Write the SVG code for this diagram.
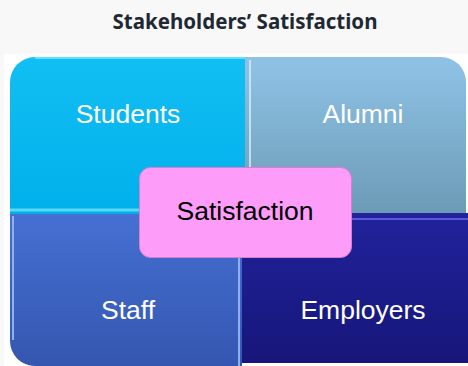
<svg xmlns="http://www.w3.org/2000/svg" width="468" height="366" viewBox="0 0 468 366">
<defs>
<linearGradient id="gStu" x1="0" y1="0" x2="0" y2="1"><stop offset="0" stop-color="#12bff4"/><stop offset="1" stop-color="#00b0ea"/></linearGradient>
<linearGradient id="gAlu" x1="0" y1="0" x2="0" y2="1"><stop offset="0" stop-color="#8fc3e6"/><stop offset="1" stop-color="#6c9bb6"/></linearGradient>
<linearGradient id="gSta" x1="0" y1="0" x2="0" y2="1"><stop offset="0" stop-color="#4570d2"/><stop offset="1" stop-color="#3556b0"/></linearGradient>
<linearGradient id="gEmp" x1="0" y1="0" x2="0" y2="1"><stop offset="0" stop-color="#22229c"/><stop offset="1" stop-color="#16167a"/></linearGradient>
</defs>
<style>
.lbl{font-family:"Liberation Sans",Arial,sans-serif;font-size:26.5px;fill:#ffffff;text-anchor:middle}
.ttl{font-family:"Noto Sans","Open Sans",sans-serif;font-size:20.5px;font-weight:bold;fill:#1f2933;text-anchor:middle}
</style>
<rect x="0" y="0" width="468" height="366" fill="#f8f8f8"/>
<rect x="4" y="54" width="464" height="312" fill="#ffffff"/>
<text class="ttl" x="245" y="29">Stakeholders’ Satisfaction</text>
<g id="alumni">
<path d="M245 57 H441 A25 25 0 0 1 466 82 V213 H245 Z" fill="url(#gAlu)"/>
<line x1="250" y1="60" x2="250" y2="210" stroke="#d8f0ff" stroke-width="1.5"/>
<text class="lbl" x="363" y="123">Alumni</text>
</g>
<g id="students">
<path d="M35 57 H245 V214 H10 V82 A25 25 0 0 1 35 57 Z" fill="url(#gStu)"/>
<path d="M35 58 H245" stroke="#5fe0ff" stroke-width="2"/>
<path d="M10 210 H245" stroke="#5ad8f8" stroke-width="3"/>
<text class="lbl" x="128" y="123">Students</text>
</g>
<g id="employers">
<rect x="242" y="213" width="226" height="150" fill="url(#gEmp)"/>
<path d="M248 219 H468" stroke="#5a5ad8" stroke-width="2"/>
<text class="lbl" x="363" y="319">Employers</text>
</g>
<g id="staff">
<path d="M10 214 H242 V366 H35 A25 25 0 0 1 10 341 Z" fill="url(#gSta)"/>
<line x1="13" y1="216" x2="13" y2="340" stroke="#8fb0f0" stroke-width="2"/>
<line x1="239" y1="216" x2="239" y2="366" stroke="#8fb0f0" stroke-width="2"/>
<text class="lbl" x="128" y="319">Staff</text>
</g>
<g id="satisfaction">
<rect x="139.5" y="167.5" width="212" height="90" rx="11" fill="#fe9cfa" stroke="#d67ed2" stroke-width="1"/>
<text class="lbl" x="245" y="220" style="fill:#000000">Satisfaction</text>
</g>
</svg>
